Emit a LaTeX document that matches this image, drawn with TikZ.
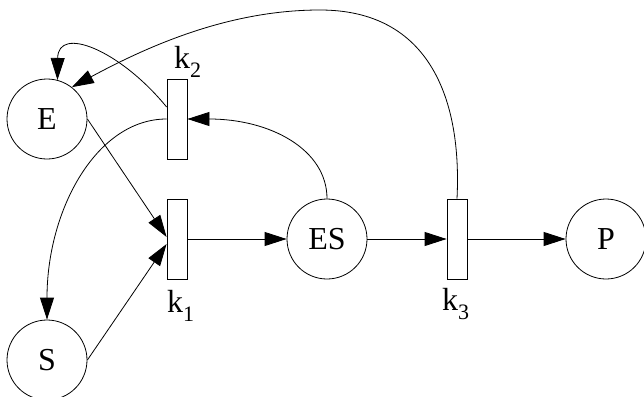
\documentclass[tikz,border=0pt]{standalone}
\usepackage{fontspec}
\setmainfont{Liberation Serif}
\usetikzlibrary{arrows.meta,calc}
\begin{document}
\begin{tikzpicture}[x=1pt,y=-1pt,
  place/.style={draw,circle,minimum size=80pt,inner sep=0pt,line width=0.8pt,font=\fontsize{32}{32}\selectfont},
  trans/.style={draw,rectangle,minimum width=20pt,minimum height=80pt,inner sep=0pt,line width=0.8pt},
  klabel/.style={anchor=base west,inner sep=0pt,font=\fontsize{32}{32}\selectfont},
  arc/.style={line width=0.8pt,-{Triangle[length=22pt,width=14pt]}}]
\useasboundingbox (0,0) rectangle (644,396);
\node[place] (E) at (47,119) {E};
\node[place] (S) at (47,360) {S};
\node[place] (ES) at (327,239) {ES};
\node[place] (P) at (606,239) {P};
\node[trans] (k1) at (177,239) {};
\node[trans] (k2) at (177,119) {};
\node[trans] (k3) at (457,239) {};
\newcommand{\ksub}[1]{k\raisebox{-9pt}{\fontsize{22}{22}\selectfont #1}}
\node[klabel] (l1) at (167,312) {\ksub{1}};
\node[klabel] (l2) at (174,68) {\ksub{2}};
\node[klabel] (l3) at (442,310) {\ksub{3}};
% straight arcs
\draw[arc] (E.east) -- ($(k1.west)+(0,-2)$);
\draw[arc] (S.east) -- ($(k1.west)+(0,5)$);
\draw[arc] (k1.east) -- (ES.west);
\draw[arc] (ES.east) -- (k3.west);
\draw[arc] (k3.east) -- (P.west);
% curved arcs
\draw[arc] (k2.west) .. controls +(-70,0) and +(0,-110) .. (S.north);
\draw[arc] ($(k2.west)+(0,-12)$) .. controls (120,50) and (58,25) .. (E.75);
\draw[arc] (ES.north) .. controls +(0,-49) and +(83,0) .. (k2.east);
\draw[arc] (k3.north) .. controls (462,100) and (430,10) .. (320,10)
  .. controls (230,10) and (150,45) .. (E.52);
\end{tikzpicture}
\end{document}
